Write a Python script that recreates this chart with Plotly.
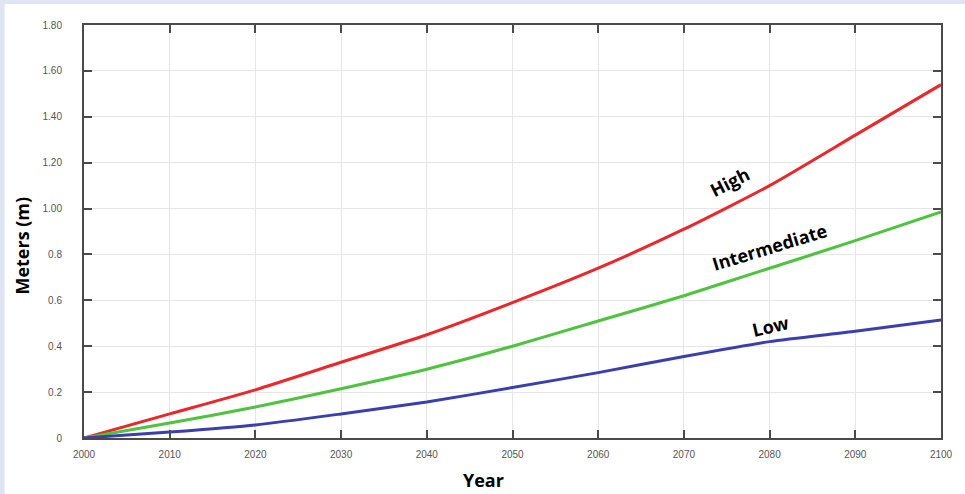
import plotly.graph_objects as go

years = [2000, 2010, 2020, 2030, 2040, 2050, 2060, 2070, 2080, 2090, 2100]
high = [0.0, 0.105, 0.21, 0.33, 0.45, 0.59, 0.74, 0.91, 1.10, 1.32, 1.54]
intermediate = [0.0, 0.065, 0.135, 0.215, 0.30, 0.40, 0.51, 0.62, 0.74, 0.86, 0.985]
low = [0.0, 0.026, 0.057, 0.105, 0.157, 0.22, 0.285, 0.355, 0.42, 0.465, 0.514]

ytick_vals = [0, 0.2, 0.4, 0.6, 0.8, 1.0, 1.2, 1.4, 1.6, 1.8]
ytick_text = ["0", "0.2", "0.4", "0.6", "0.8", "1.00", "1.20", "1.40", "1.60", "1.80"]
xtick_vals = years
xtick_text = [str(y) for y in years]

series_names = ["High", "Intermediate", "Low"]
series_colors = ["#e8282b", "#4fc23f", "#3b3fae"]

fig = go.Figure()
for name, vals, col in zip(series_names, [high, intermediate, low], series_colors):
    fig.add_trace(go.Scatter(x=years, y=vals, mode="lines", name=name,
                             line=dict(color=col, width=3, shape="spline", smoothing=0.6)))

axis_common = dict(showline=True, linecolor="#4a4a4a", linewidth=2, mirror="ticks",
                   ticks="inside", ticklen=8, tickwidth=2, tickcolor="#4a4a4a",
                   showgrid=True, gridcolor="#e6e6e6", gridwidth=1, zeroline=False,
                   tickfont=dict(family="Liberation Sans, Arial", size=10, color="#555555"))

fig.update_xaxes(range=[2000, 2100], tickvals=xtick_vals, ticktext=xtick_text,
                 ticklabelstandoff=6, **axis_common)
fig.update_yaxes(range=[0, 1.8], tickvals=ytick_vals, ticktext=ytick_text,
                 ticklabelstandoff=18, **axis_common)

label_font = dict(family="Open Sans", size=18, color="black")
fig.add_annotation(x=2075.3, y=1.116, text="<b>High</b>", showarrow=False, textangle=-27, font=label_font)
fig.add_annotation(x=2080.0, y=0.833, text="<b>Intermediate</b>", showarrow=False, textangle=-17, font=label_font)
fig.add_annotation(x=2080.1, y=0.488, text="<b>Low</b>", showarrow=False, textangle=-13, font=label_font)

title_font = dict(family="Open Sans", size=18, color="black")
fig.add_annotation(xref="paper", yref="paper", x=-0.0718, y=0.467, text="<b>Meters (m)</b>",
                   showarrow=False, textangle=-90, font=title_font, xanchor="center", yanchor="middle")
fig.add_annotation(xref="paper", yref="paper", x=0.4664, y=-0.1017, text="<b>Year</b>",
                   showarrow=False, font=title_font, xanchor="center", yanchor="middle")

fig.add_shape(type="rect", xref="paper", yref="paper", x0=-0.0926, x1=1.1, y0=-0.3, y1=1.0508,
              fillcolor="white", line=dict(width=0), layer="below")

fig.update_layout(width=965, height=494, margin=dict(l=84, r=17, t=25, b=56),
                  paper_bgcolor="#dfe5f5", plot_bgcolor="white", showlegend=False)

fig.write_html("out.html", config={"displayModeBar": False},
               post_script="document.body.style.margin='0';document.body.style.overflow='hidden';")
